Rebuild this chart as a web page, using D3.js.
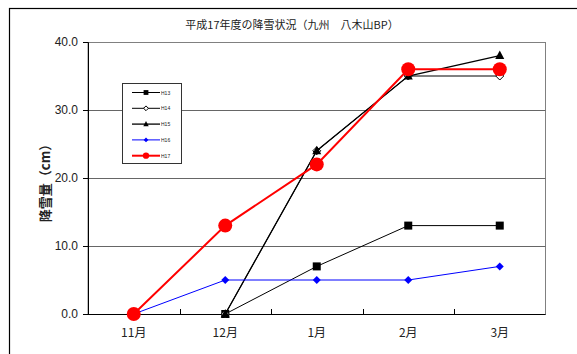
<!DOCTYPE html>
<html>
<head>
<meta charset="utf-8">
<script src="https://cdn.jsdelivr.net/npm/d3@7"></script>
<style>
  html, body { margin: 0; padding: 0; background: #fff; }
  svg { display: block; font-family: "Noto Sans CJK JP", "Noto Sans", sans-serif; }
</style>
</head>
<body>
<svg id="chart" width="577" height="354"></svg>
<script>
// Monthly snowfall (cm) at 八木山BP, Kyushu, by season
const months = ["11月", "12月", "1月", "2月", "3月"];
const yTicks = [0, 10, 20, 30, 40];
const h13 = [null, 0, 7, 13, 13];
const h14 = [null, 0, 24, 35, 35];
const h15 = [null, 0, 24, 35, 38];
const h16 = [0, 5, 5, 5, 7];
const h17 = [0, 13, 22, 36, 36];

const series = [
  { name: "H13", values: h13, color: "#000", width: 1, marker: "square" },
  { name: "H14", values: h14, color: "#000", width: 1, marker: "diamondOpen" },
  { name: "H15", values: h15, color: "#000", width: 1.3, marker: "triangle" },
  { name: "H16", values: h16, color: "#0000ff", width: 1, marker: "diamond" },
  { name: "H17", values: h17, color: "#ff0000", width: 2, marker: "circle" }
];

const svg = d3.select("#chart");
const m = { left: 88, right: 545.5, top: 42, bottom: 314 };

// outer chart frame
svg.append("rect").attr("x", 9.5).attr("y", 8.5).attr("width", 600).attr("height", 400)
  .attr("fill", "#fff").attr("stroke", "#000").attr("stroke-width", 1.2);

const x = d3.scaleBand().domain(months).range([m.left, m.right]);
const y = d3.scaleLinear().domain([0, 40]).range([m.bottom, m.top]);

// plot area border
svg.append("rect").attr("x", m.left).attr("y", m.top + 0.5)
  .attr("width", m.right - m.left).attr("height", m.bottom - m.top)
  .attr("fill", "#fff").attr("stroke", "#808080").attr("stroke-width", 1);

// horizontal gridlines
svg.append("g").selectAll("line").data(yTicks.filter(d => d > 0 && d < 40)).join("line")
  .attr("x1", m.left).attr("x2", m.right)
  .attr("y1", d => Math.round(y(d)) + 0.5).attr("y2", d => Math.round(y(d)) + 0.5)
  .attr("stroke", "#666").attr("stroke-width", 1);

// y axis
const yAxis = svg.append("g").attr("transform", `translate(${m.left},0)`)
  .call(d3.axisLeft(y).tickValues(yTicks).tickFormat(d3.format(".1f")).tickSize(5).tickPadding(5));
yAxis.select(".domain").attr("stroke", "#000");
yAxis.selectAll(".tick line").attr("stroke", "#000");
yAxis.selectAll("text").attr("font-size", 12).attr("fill", "#222")
  .attr("font-family", "Liberation Sans, Arial, sans-serif");

// x axis with ticks at category boundaries
const xAxis = svg.append("g").attr("transform", `translate(0,${m.bottom})`);
xAxis.append("line").attr("x1", m.left).attr("x2", m.right).attr("y1", 0.5).attr("y2", 0.5)
  .attr("stroke", "#000").attr("stroke-width", 1.2);
xAxis.selectAll(".bt").data(months.slice(1)).join("line").attr("class", "bt")
  .attr("x1", d => Math.round(x(d)) + 0.5).attr("x2", d => Math.round(x(d)) + 0.5)
  .attr("y1", 0).attr("y2", -5).attr("stroke", "#000");
xAxis.selectAll("text").data(months).join("text")
  .attr("x", d => x(d) + x.bandwidth() / 2).attr("y", 23)
  .attr("text-anchor", "middle").attr("font-size", 12).attr("fill", "#222").text(d => d);

// title and axis label
svg.append("text").attr("x", 292).attr("y", 29).attr("text-anchor", "middle")
  .attr("font-size", 11).attr("fill", "#222").text("平成17年度の降雪状況（九州　八木山BP）");
svg.append("text").attr("transform", "translate(50,180) rotate(-90)")
  .attr("text-anchor", "middle").attr("font-size", 13).attr("font-weight", "bold")
  .attr("fill", "#222").text("降雪量（cm）");

const cx = (d, i) => x(months[i]) + x.bandwidth() / 2;

function drawMarker(g, type, color, px, py, scale) {
  const s = scale || 1;
  if (type === "square") {
    g.append("rect").attr("x", px - 4 * s).attr("y", py - 4 * s).attr("width", 8 * s).attr("height", 8 * s).attr("fill", color);
  } else if (type === "triangle") {
    g.append("path").attr("d", `M${px},${py - 5 * s}L${px + 4.5 * s},${py + 3.5 * s}L${px - 4.5 * s},${py + 3.5 * s}Z`).attr("fill", color);
  } else if (type === "diamondOpen") {
    g.append("path").attr("d", `M${px},${py - 4 * s}L${px + 4 * s},${py}L${px},${py + 4 * s}L${px - 4 * s},${py}Z`)
      .attr("fill", "#fff").attr("stroke", color).attr("stroke-width", 1);
  } else if (type === "diamond") {
    g.append("path").attr("d", `M${px},${py - 4 * s}L${px + 4 * s},${py}L${px},${py + 4 * s}L${px - 4 * s},${py}Z`).attr("fill", color);
  } else if (type === "circle") {
    g.append("circle").attr("cx", px).attr("cy", py).attr("r", 7 * s).attr("fill", color);
  }
}

// series lines and markers
const lineGen = d3.line().defined(d => d !== null).x(cx).y(d => y(d));
series.forEach(s => {
  const g = svg.append("g");
  g.append("path").datum(s.values).attr("d", lineGen)
    .attr("fill", "none").attr("stroke", s.color).attr("stroke-width", s.width);
  s.values.forEach((v, i) => {
    if (v !== null) drawMarker(g, s.marker, s.color, cx(v, i), y(v), 1);
  });
});

// legend
const lg = svg.append("g").attr("transform", "translate(122,83)");
lg.append("rect").attr("x", 0.5).attr("y", 0.5).attr("width", 59).attr("height", 80)
  .attr("fill", "#fff").attr("stroke", "#333").attr("stroke-width", 1);
series.forEach((s, i) => {
  const ly = 9.5 + i * 15.8;
  lg.append("line").attr("x1", 10).attr("x2", 38).attr("y1", ly).attr("y2", ly)
    .attr("stroke", s.color).attr("stroke-width", s.width);
  drawMarker(lg, s.marker, s.color, 24, ly, s.marker === "circle" ? 0.45 : 0.6);
  lg.append("text").attr("x", 39).attr("y", ly + 2).attr("font-size", 5)
    .attr("font-family", "Liberation Sans, Arial, sans-serif").attr("fill", "#222").text(s.name);
});
</script>
</body>
</html>
